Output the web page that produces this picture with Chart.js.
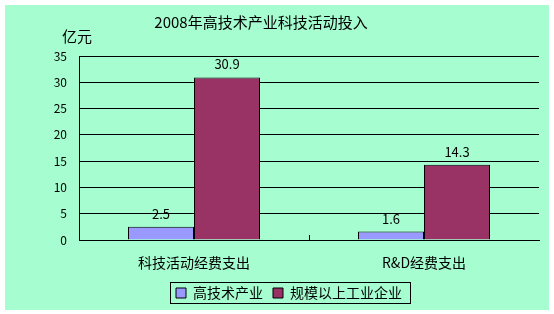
<!DOCTYPE html>
<html lang="zh">
<head>
<meta charset="UTF-8">
<title>2008年高技术产业科技活动投入</title>
<style>
  html, body { margin: 0; padding: 0; background: #fff; }
  #wrap { width: 554px; height: 314px; }
</style>
</head>
<body>
<div id="wrap"><canvas id="myChart" width="554" height="314"></canvas></div>

<script src="https://cdn.jsdelivr.net/npm/chart.js"></script>
<script>
const chartTitle = '2008年高技术产业科技活动投入'
const unitLabel = '亿元'
const categories = ['科技活动经费支出', 'R&D经费支出']
const seriesNames = ['高技术产业', '规模以上工业企业']
const hiTechValues = [2.5, 1.6]      // 高技术产业
const industryValues = [30.9, 14.3]  // 规模以上工业企业
const yMax = 35
const yStep = 5

const FONT = "'Noto Sans CJK SC', 'Noto Sans', sans-serif"
Chart.defaults.font.family = FONT
Chart.defaults.color = '#000'

// 배경 + 제목 + 단위
const decor = {
    id: 'decor',
    beforeDraw(chart) {
        const ctx = chart.ctx
        ctx.save()
        ctx.fillStyle = '#fff'
        ctx.fillRect(0, 0, chart.width, chart.height)
        ctx.fillStyle = '#A6FDD0'
        ctx.fillRect(5, 5, 544, 305)
        ctx.restore()
    },
    afterDraw(chart) {
        const ctx = chart.ctx
        ctx.save()
        ctx.fillStyle = '#000'
        ctx.textBaseline = 'middle'
        ctx.font = '15px ' + FONT
        ctx.textAlign = 'center'
        ctx.fillText(chartTitle, 261, 22)
        ctx.textAlign = 'left'
        ctx.fillText(unitLabel, 62, 36)

        // 범례 테두리
        const boxes = chart.legend.legendHitBoxes
        if (boxes && boxes.length) {
            const l = Math.min(...boxes.map(b => b.left))
            const r = Math.max(...boxes.map(b => b.left + b.width))
            const t = Math.min(...boxes.map(b => b.top))
            const btm = Math.max(...boxes.map(b => b.top + b.height))
            ctx.strokeStyle = '#000'
            ctx.lineWidth = 1
            ctx.strokeRect(Math.round(l - 6) + 0.5, Math.round(t - 4) + 0.5, Math.round(r - l + 14), Math.round(btm - t + 7))
        }

        // x축 안쪽 눈금 (카테고리 경계)
        const xs = chart.scales.x
        const bottom = chart.chartArea.bottom
        ctx.beginPath()
        for (let i = 0; i < categories.length - 1; i++) {
            const px = Math.round((xs.getPixelForValue(i) + xs.getPixelForValue(i + 1)) / 2) + 0.5
            ctx.moveTo(px, bottom - 5)
            ctx.lineTo(px, bottom)
        }
        ctx.strokeStyle = '#000'
        ctx.stroke()
        ctx.restore()
    },
    afterDatasetsDraw(chart) {
        // 값 라벨
        const ctx = chart.ctx
        ctx.save()
        ctx.fillStyle = '#000'
        ctx.font = '13px ' + FONT
        ctx.textAlign = 'center'
        ctx.textBaseline = 'middle'
        chart.data.datasets.forEach((ds, di) => {
            chart.getDatasetMeta(di).data.forEach((bar, i) => {
                ctx.fillText(ds.data[i].toFixed(1), bar.x, bar.y - 13)
            })
        })
        ctx.restore()
    }
}

const ctx = document.getElementById('myChart')
new Chart(ctx, {
    type: 'bar',
    data: {
        labels: categories,
        datasets: [{
            label: seriesNames[0],
            data: hiTechValues,
            backgroundColor: '#9999FF',
            borderColor: '#000',
            borderWidth: 1
        }, {
            label: seriesNames[1],
            data: industryValues,
            backgroundColor: '#993366',
            borderColor: '#000',
            borderWidth: 1
        }]
    },
    options: {
        responsive: false,
        animation: false,
        devicePixelRatio: 1,
        layout: { padding: { top: 56, right: 15, left: 39, bottom: 4 } },
        datasets: { bar: { categoryPercentage: 0.574, barPercentage: 1.0 } },
        scales: {
            x: {
                grid: { display: false, drawTicks: false },
                border: { display: true, color: '#000', width: 1 },
                ticks: { padding: 14, font: { size: 14 } },
                afterFit(scale) { scale.height = 36 }
            },
            y: {
                min: 0,
                max: yMax,
                ticks: { stepSize: yStep, padding: 12, font: { size: 12 } },
                grid: { color: '#000', lineWidth: 1, drawTicks: false },
                border: { display: true, color: '#000', width: 1 },
                afterFit(scale) { scale.width = 40 }
            }
        },
        plugins: {
            tooltip: { enabled: false },
            legend: {
                position: 'bottom',
                labels: {
                    boxWidth: 10,
                    boxHeight: 10,
                    padding: 10,
                    font: { size: 14 }
                }
            }
        }
    },
    plugins: [decor]
})
</script>
</body>
</html>
